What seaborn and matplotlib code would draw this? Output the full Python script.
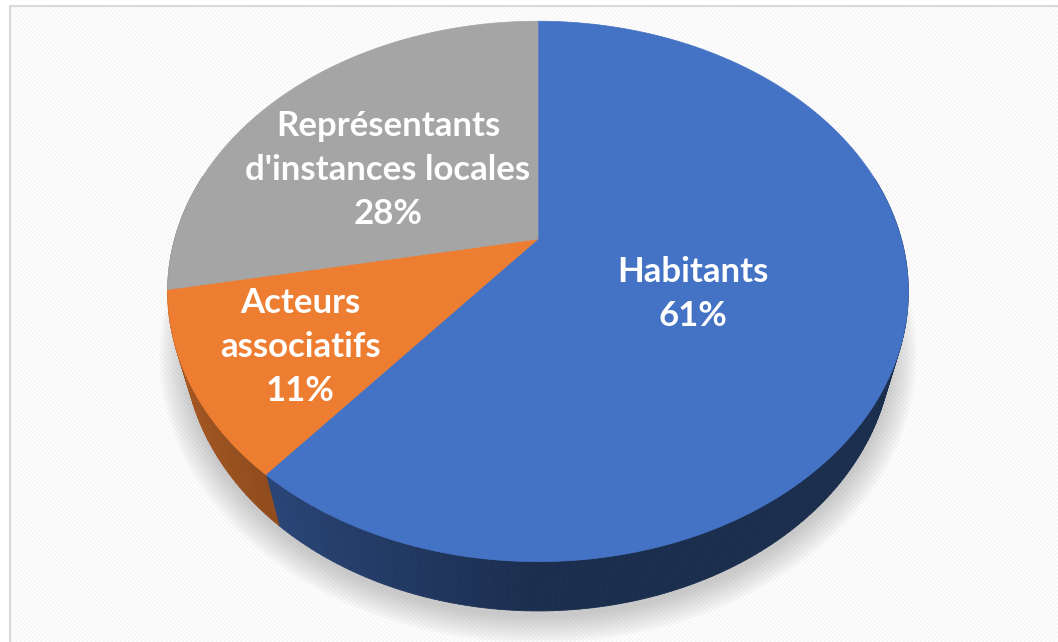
import numpy as np
import matplotlib.pyplot as plt
import seaborn as sns
from matplotlib.patches import Rectangle
from matplotlib.colors import to_rgb

# data
categories = ["Habitants", "Acteurs\nassociatifs", "Représentants\nd'instances locales"]
shares = [61, 11, 28]
colors = ["#4472C4", "#ED7D31", "#A5A5A5"]

# layout (pixels)
W, H = 1058, 642
CX, CY = 538, 239          # pie centre on screen
F, DC = 1308, 3.6          # focal length, camera distance
ELEV = np.deg2rad(45.7)    # camera elevation
THICK = 0.221              # pie thickness (in radii)
label_xy = [(693, 294), (300, 347), (388, 170)]

sns.set_theme(style="white")
plt.rcParams["font.family"] = ["Lato", "DejaVu Sans"]
plt.rcParams["hatch.linewidth"] = 0.9


def project(theta, r=1.0, z=0.0):
    X = r * np.sin(theta)
    Y = r * np.cos(theta)
    depth = DC + Y * np.cos(ELEV) - z * np.sin(ELEV)
    xs = F * X / depth
    ys = F * (Y * np.sin(ELEV) + z * np.cos(ELEV)) / depth
    return CX + xs, CY - ys


fig = plt.figure(figsize=(W / 100, H / 100), dpi=100)
ax = fig.add_axes([0, 0, 1, 1])
ax.set_xlim(0, W)
ax.set_ylim(H, 0)
ax.axis("off")

# hatched background + border
ax.add_patch(Rectangle((10, 6), W, H, facecolor="white", edgecolor="#f4f4f4",
                       hatch="\\" * 8, linewidth=0, zorder=0))
ax.plot([10, 10, W], [H, 6, 6], color="#d9d9d9", lw=1.5, zorder=1)

# soft shadow under the pie
full = np.linspace(0, 2 * np.pi, 400)
for i in range(12):
    s = 1.0 + 0.006 * i
    sx, sy = project(full, s, -THICK)
    ax.fill(sx, sy + 6, color="#707070", alpha=0.03, lw=0, zorder=2)

fracs = np.array(shares) / sum(shares)
bounds = np.concatenate([[0], np.cumsum(fracs)]) * 2 * np.pi

# side walls
for i, col in enumerate(colors):
    base = np.array(to_rgb(col))
    ts = np.linspace(bounds[i], bounds[i + 1], max(int(fracs[i] * 400), 6))
    for ta, tb in zip(ts[:-1], ts[1:]):
        tm = 0.5 * (ta + tb)
        if np.cos(tm) > 0.25:
            continue
        shade = 0.40 + 0.32 * max(0.0, -np.sin(tm))
        xa, ya = project(ta)
        xb, yb = project(tb)
        xc, yc = project(tb, 1.0, -THICK)
        xd, yd = project(ta, 1.0, -THICK)
        c = tuple(base * shade)
        ax.fill([xa, xb, xc, xd], [ya, yb, yc, yd], color=c, ec=c, lw=0.6, zorder=3)

# top faces
for i, col in enumerate(colors):
    ts = np.linspace(bounds[i], bounds[i + 1], max(int(fracs[i] * 400), 6))
    ax_, ay_ = project(ts)
    px = np.concatenate([[CX], ax_])
    py = np.concatenate([[CY], ay_])
    ax.fill(px, py, color=col, ec=col, lw=0.5, zorder=4)

# labels
for name, pct, (lx, ly) in zip(categories, shares, label_xy):
    ax.text(lx, ly, f"{name}\n{pct}%", ha="center", va="center", multialignment="center",
            color="white", fontsize=25, fontweight="bold", linespacing=1.45, zorder=5)

fig.savefig("out.png", dpi=100)
